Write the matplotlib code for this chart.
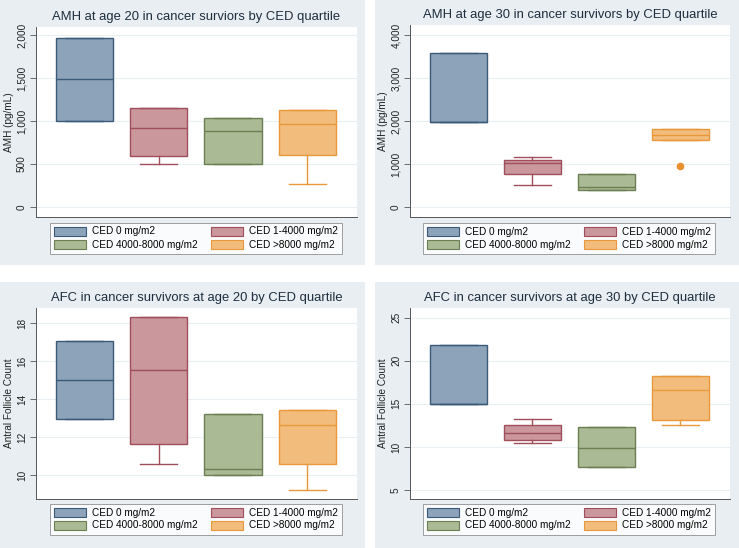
import matplotlib.pyplot as plt
from matplotlib.patches import Rectangle, Patch

plt.rcParams['font.family'] = ['Liberation Sans', 'DejaVu Sans']

groups = ['CED 0 mg/m2', 'CED 1-4000 mg/m2', 'CED 4000-8000 mg/m2', 'CED >8000 mg/m2']
fills = ['#8da3b9', '#c9979c', '#a9ba94', '#f2bd7c']
edges = ['#3b5a7a', '#a04e5b', '#6c7f52', '#e8983a']

# AMH at age 20
amh20_q1 = [1000, 597, 504, 601]
amh20_med = [1485, 919, 880, 961]
amh20_q3 = [1962, 1155, 1031, 1124]
amh20_lo = [1000, 504, 504, 271]
amh20_hi = [1962, 1155, 1031, 1124]
amh20_out = [[], [], [], []]

# AMH at age 30
amh30_q1 = [1986, 773, 401, 1559]
amh30_med = [1986, 1028, 464, 1675]
amh30_q3 = [3573, 1104, 766, 1817]
amh30_lo = [1986, 524, 401, 1559]
amh30_hi = [3573, 1160, 766, 1817]
amh30_out = [[], [], [], [965]]

# AFC at age 20
afc20_q1 = [12.94, 11.65, 10.02, 10.58]
afc20_med = [15.0, 15.54, 10.33, 12.62]
afc20_q3 = [17.07, 18.32, 13.2, 13.41]
afc20_lo = [12.94, 10.56, 10.02, 9.21]
afc20_hi = [17.07, 18.32, 13.2, 13.41]
afc20_out = [[], [], [], []]

# AFC at age 30
afc30_q1 = [14.94, 10.8, 7.7, 13.16]
afc30_med = [14.94, 11.58, 9.84, 16.6]
afc30_q3 = [21.79, 12.58, 12.35, 18.27]
afc30_lo = [14.94, 10.42, 7.7, 12.58]
afc30_hi = [21.79, 13.2, 12.35, 18.27]
afc30_out = [[], [], [], []]

W, H = 739, 548
fig = plt.figure(figsize=(W / 100, H / 100), dpi=100)
fig.patch.set_facecolor('white')

bg = '#e8eef2'


def px(x0, y0, x1, y1):
    return [x0 / W, 1 - y1 / H, (x1 - x0) / W, (y1 - y0) / H]


panels = [
    dict(box=(0, 0, 365, 265), ax=(36, 27, 357, 217), leg=(52, 222, 340, 254),
         title='AMH at age 20 in cancer surviors by CED quartile', ylabel='AMH (pg/mL)',
         ylim=(-116, 2093), ticks=[0, 500, 1000, 1500, 2000], fmt='{:,.0f}',
         data=(amh20_q1, amh20_med, amh20_q3, amh20_lo, amh20_hi, amh20_out)),
    dict(box=(375, 0, 739, 265), ax=(410, 25, 730, 217), leg=(425, 222, 713, 255),
         title='AMH at age 30 in cancer survivors by CED quartile', ylabel='AMH (pg/mL)',
         ylim=(-225, 4232), ticks=[0, 1000, 2000, 3000, 4000], fmt='{:,.0f}',
         data=(amh30_q1, amh30_med, amh30_q3, amh30_lo, amh30_hi, amh30_out)),
    dict(box=(0, 282, 365, 548), ax=(36, 308, 357, 499), leg=(52, 503, 340, 535),
         title='AFC in cancer survivors at age 20 by CED quartile', ylabel='Antral Follicle Count',
         ylim=(8.73, 18.81), ticks=[10, 12, 14, 16, 18], fmt='{:.0f}',
         data=(afc20_q1, afc20_med, afc20_q3, afc20_lo, afc20_hi, afc20_out)),
    dict(box=(375, 282, 739, 548), ax=(410, 308, 730, 499), leg=(425, 503, 713, 535),
         title='AFC in cancer survivors at age 30 by CED quartile', ylabel='Antral Follicle Count',
         ylim=(3.96, 26.12), ticks=[5, 10, 15, 20, 25], fmt='{:.0f}',
         data=(afc30_q1, afc30_med, afc30_q3, afc30_lo, afc30_hi, afc30_out)),
]

for p in panels:
    x0, y0, x1, y1 = p['box']
    fig.patches.append(Rectangle((x0 / W, 1 - y1 / H), (x1 - x0) / W, (y1 - y0) / H,
                                 transform=fig.transFigure, facecolor=bg, edgecolor='none', zorder=-5))
    ax = fig.add_axes(px(*p['ax']))
    ax.set_facecolor('white')
    q1, med, q3, lo, hi, out = p['data']
    for i in range(4):
        st = [dict(q1=q1[i], med=med[i], q3=q3[i], whislo=lo[i], whishi=hi[i], fliers=out[i])]
        ax.bxp(st, positions=[i + 1], widths=0.77, capwidths=0.5, patch_artist=True,
               boxprops=dict(facecolor=fills[i], edgecolor=edges[i], linewidth=1.0),
               medianprops=dict(color=edges[i], linewidth=1.0),
               whiskerprops=dict(color=edges[i], linewidth=1.0),
               capprops=dict(color=edges[i], linewidth=1.0),
               flierprops=dict(marker='o', markerfacecolor='#e8922f', markeredgecolor='#e8922f',
                               markersize=4.5))
    ax.set_xlim(0.35, 4.67)
    ax.set_ylim(*p['ylim'])
    ax.set_xticks([])
    ax.set_yticks(p['ticks'])
    ax.set_yticklabels([p['fmt'].format(t) for t in p['ticks']], rotation=90, va='center',
                       fontsize=7.2, color='#222222')
    ax.tick_params(axis='y', length=4, width=0.6, color='#555555', pad=2.5)
    ax.grid(axis='y', color='#eaeff3', linewidth=0.8)
    ax.set_axisbelow(True)
    for s in ['top', 'right']:
        ax.spines[s].set_visible(False)
    for s in ['left', 'bottom']:
        ax.spines[s].set_color('#555555')
        ax.spines[s].set_linewidth(0.7)
    ax.set_ylabel(p['ylabel'], fontsize=7.2, color='#222222', labelpad=2)
    ax.set_title(p['title'], fontsize=9.4, color='#1e2e3e', pad=5)

    lx0, ly0, lx1, ly1 = p['leg']
    handles = [Patch(facecolor=fills[i], edgecolor=edges[i], linewidth=0.8) for i in range(4)]
    order = [0, 2, 1, 3]
    leg = fig.legend([handles[k] for k in order], [groups[k] for k in order], ncol=2,
                     loc='center',
                     bbox_to_anchor=((lx0 + lx1) / 2 / W, 1 - (ly0 + ly1) / 2 / H),
                     fontsize=7.2, frameon=True, fancybox=False, borderaxespad=0,
                     handlelength=3.2, handleheight=1.0, handletextpad=0.6,
                     columnspacing=1.3, labelspacing=0.3, borderpad=0.4)
    leg.get_frame().set_edgecolor('#888888')
    leg.get_frame().set_linewidth(0.7)

fig.savefig('out.png', dpi=100, facecolor='white')
